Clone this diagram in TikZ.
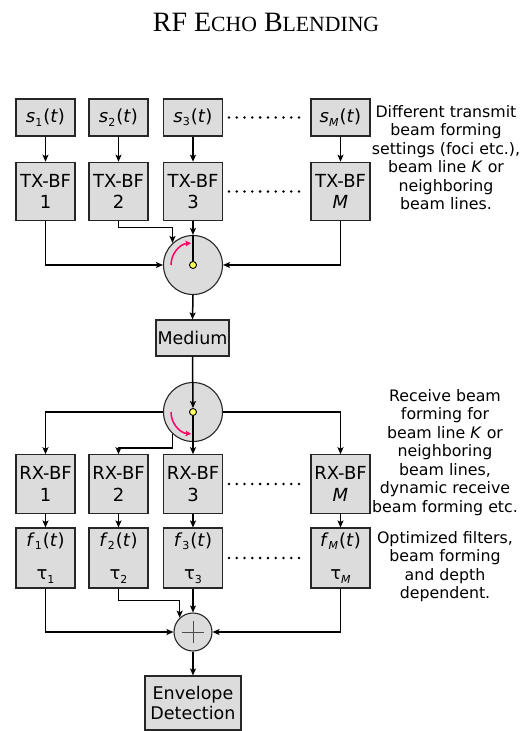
\documentclass[tikz,border=0pt]{standalone}
\usepackage{fontspec}
\setmainfont{DejaVu Sans}
\newfontfamily\titlefont{Liberation Serif}
\usetikzlibrary{arrows.meta}
\definecolor{boxfill}{RGB}{220,220,220}
\definecolor{arcred}{RGB}{255,0,102}
\definecolor{dotyellow}{RGB}{255,255,90}
\newcommand{\sig}[2]{\textit{#1}\raisebox{-0.35ex}{\fontsize{11}{11}\selectfont #2}\kern1pt(\textit{t})}
\newcommand{\tauv}[1]{τ\raisebox{-0.35ex}{\fontsize{11}{11}\selectfont #1}}
\newcommand{\tsc}[1]{{\fontsize{21.7}{21.7}\selectfont #1}}
\tikzset{
  blk/.style={draw=black!85, line width=1.1pt, fill=boxfill, inner sep=0pt,
    minimum width=59pt, font=\fontsize{18}{21.5}\selectfont, align=center},
  sbox/.style={blk, minimum height=37pt},
  bfbox/.style={blk, minimum height=58.5pt},
  filtbox/.style={blk, minimum height=60pt},
  circ/.style={circle, draw=black!85, line width=1.1pt, fill=boxfill, inner sep=0pt},
  ydot/.style={circle, draw=black, line width=0.9pt, fill=dotyellow, minimum size=7pt, inner sep=0pt},
  arr/.style={line width=1.5pt, -{Stealth[length=7pt,width=6pt,inset=1.5pt]}},
  wire/.style={line width=1.5pt},
  redarc/.style={line width=1.5pt, arcred, -{Stealth[length=5.5pt,width=5.5pt,inset=1pt]}},
  note/.style={align=center, font=\fontsize{15.8}{18.5}\selectfont},
}
\begin{document}
\begin{tikzpicture}[x=1pt,y=1pt]
\useasboundingbox (0,0) rectangle (531,-731);
% title
\node[anchor=base, font=\titlefont\fontsize{28}{28}\selectfont, inner sep=0pt] (title) at (266,-31)
  {RF E\tsc{CHO} B\tsc{LENDING}};
% signal boxes
\node[sbox] (s1) at (45.5,-117.5) {\sig{s}{1}};
\node[sbox] (s2) at (118.5,-117.5) {\sig{s}{2}};
\node[sbox] (s3) at (193,-117.5) {\sig{s}{3}};
\node[sbox] (sM) at (340.5,-117.5) {\sig{s}{\textit{M}}};
% TX-BF
\node[bfbox] (tx1) at (45.5,-191.5) {TX-BF\\1};
\node[bfbox] (tx2) at (118.5,-191.5) {TX-BF\\2};
\node[bfbox] (tx3) at (193,-191.5) {TX-BF\\3};
\node[bfbox] (txM) at (340.5,-191.5) {TX-BF\\\textit{M}};
% switch 1
\node[circ, minimum size=59pt] (c1) at (193,-265) {};
\node[ydot] (dot1) at (193,-265) {};
% medium
\node[blk, minimum width=73pt, minimum height=36pt, font=\fontsize{17.5}{21}\selectfont] (med) at (192.5,-338) {Medium};
% switch 2
\node[circ, minimum size=59pt] (c2) at (193,-412) {};
\node[ydot] (dot2) at (193,-412) {};
% RX-BF
\node[bfbox] (rx1) at (45.5,-484) {RX-BF\\1};
\node[bfbox] (rx2) at (118.5,-484) {RX-BF\\2};
\node[bfbox] (rx3) at (193,-484) {RX-BF\\3};
\node[bfbox] (rxM) at (340.5,-484) {RX-BF\\\textit{M}};
% filters
\node[filtbox] (f1) at (45.5,-558) {\sig{f}{1}\\[12pt]\tauv{1}};
\node[filtbox] (f2) at (118.5,-558) {\sig{f}{2}\\[12pt]\tauv{2}};
\node[filtbox] (f3) at (193,-558) {\sig{f}{3}\\[12pt]\tauv{3}};
\node[filtbox] (fM) at (340.5,-558) {\sig{f}{\textit{M}}\\[12pt]\tauv{\textit{M}}};
% sum
\node[circ, minimum size=38pt] (sum) at (193,-632) {};
\draw[black!70, line width=0.9pt] ([xshift=-11pt]sum.center) -- ([xshift=11pt]sum.center);
\draw[black!70, line width=0.9pt] ([yshift=-11pt]sum.center) -- ([yshift=11pt]sum.center);
% envelope
\node[blk, minimum width=96pt, minimum height=54pt, font=\fontsize{17.5}{19.5}\selectfont] (env) at (193,-703) {Envelope\\Detection};
% dotted continuations
\foreach \yy in {-117.5,-191.5,-484,-558}{
  \foreach \i in {0,...,9}{
    \fill (229+\i*7.78,\yy) circle (1.4pt);
  }
}
% connectors top
\draw[arr] (s1) -- (tx1);
\draw[arr] (s2) -- (tx2);
\draw[arr] (s3) -- (tx3);
\draw[arr] (sM) -- (txM);
\draw[arr] (tx1.south) |- (c1.west);
\draw[arr] (tx2.south) -- ++(0,-6) -| (c1.133);
\draw[arr] (tx3.south) -- (c1.north);
\draw[wire] (c1.north) -- (dot1.north);
\draw[arr] (txM.south) |- (c1.east);
\draw[redarc] ([shift={(180:22pt)}]c1.center) arc[start angle=180, end angle=95, radius=22pt];
\draw[arr] (c1.south) -- (med.north);
% connectors middle
\draw[arr] (med.south) -- (dot2.north);
\draw[arr] (dot2.south) -- (rx3.north);
\draw[arr] (c2.west) -| (rx1.north);
\draw[arr] (c2.east) -| (rxM.north);
\draw[arr] (c2.227) -- ++(0,-14) -| (rx2.north);
\draw[redarc] ([shift={(180:22pt)}]c2.center) arc[start angle=180, end angle=265, radius=22pt];
% connectors bottom
\draw[arr] (rx1) -- (f1);
\draw[arr] (rx2) -- (f2);
\draw[arr] (rx3) -- (f3);
\draw[arr] (rxM) -- (fM);
\draw[arr] (f1.south) |- (sum.west);
\draw[arr] (f2.south) -- ++(0,-12) -| (sum.133);
\draw[arr] (f3.south) -- (sum.north);
\draw[arr] (fM.south) |- (sum.east);
\draw[arr] (sum.south) -- (env.north);
% notes
\node[note] (n1) at (446,-157.5) {Different transmit\\beam forming\\settings (foci etc.),\\beam line \textit{K} or\\neighboring\\beam lines.};
\node[note] (n2) at (445,-452.5) {Receive beam\\forming for\\beam line \textit{K} or\\neighboring\\beam lines,\\dynamic receive\\beam forming etc.};
\node[note] (n3) at (445,-566.5) {Optimized filters,\\beam forming\\and depth\\dependent.};
\end{tikzpicture}
\end{document}
